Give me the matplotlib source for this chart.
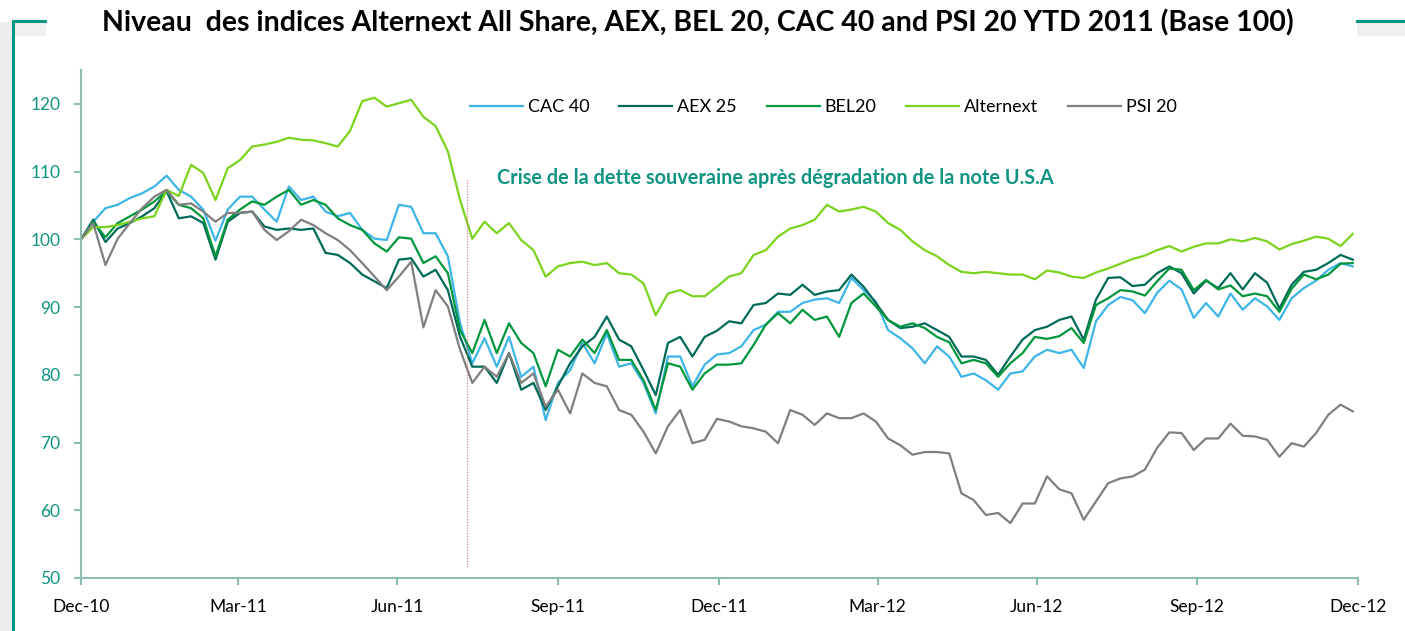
import numpy as np
import pandas as pd
import matplotlib
matplotlib.use("Agg")
import matplotlib.pyplot as plt
from matplotlib.lines import Line2D
from matplotlib.patches import Rectangle

# weekly closes, base 100 on 31 Dec 2010
dates = pd.date_range("2010-12-31", periods=105, freq="7D")

cac40 = [100, 102.6, 104.6, 105.1, 106.1, 106.8, 107.8, 109.4, 107.3, 106.3,
         104.4, 99.8, 104.4, 106.3, 106.3, 104.4, 102.6, 107.8, 105.8, 106.3,
         104.1, 103.4, 103.9, 101.4, 100.1, 99.9, 105.1, 104.8, 100.9, 100.9,
         97.5, 87.6, 81.7, 85.4, 81.2, 85.6, 79.7, 81.2, 73.3, 78.8,
         80.7, 84.7, 81.7, 86.1, 81.2, 81.7, 78.8, 74.3, 82.7, 82.7,
         78.3, 81.5, 83.0, 83.2, 84.2, 86.6, 87.4, 89.3, 89.3, 90.6,
         91.1, 91.3, 90.6, 94.3, 92.5, 90.8, 86.6, 85.4, 83.9, 81.7,
         84.2, 82.7, 79.7, 80.2, 79.2, 77.8, 80.2, 80.5, 82.7, 83.7,
         83.2, 83.7, 81.0, 87.9, 90.3, 91.5, 91.0, 89.1, 92.1, 93.9,
         92.6, 88.4, 90.6, 88.6, 92.0, 89.6, 91.3, 90.1, 88.1, 91.3,
         92.8, 93.9, 95.5, 96.5, 96.0]

aex25 = [100, 102.9, 99.6, 101.6, 102.4, 103.4, 104.6, 107.1, 103.1, 103.4,
         102.4, 97.0, 102.6, 103.9, 104.1, 101.9, 101.4, 101.6, 101.4, 101.6,
         98.0, 97.7, 96.5, 94.8, 93.8, 92.8, 97.0, 97.2, 94.5, 95.5,
         92.5, 85.6, 81.2, 81.2, 78.8, 83.2, 77.8, 78.8, 74.8, 78.3,
         81.7, 84.2, 85.6, 88.6, 85.2, 84.2, 80.7, 77.0, 84.7, 85.6,
         82.7, 85.6, 86.5, 87.9, 87.6, 90.3, 90.6, 92.0, 91.8, 93.3,
         91.8, 92.3, 92.5, 94.8, 93.0, 90.6, 88.1, 86.9, 87.1, 87.6,
         86.6, 85.6, 82.7, 82.7, 82.2, 80.0, 82.7, 85.2, 86.6, 87.1,
         88.1, 88.6, 85.2, 91.1, 94.3, 94.4, 93.1, 93.3, 95.0, 96.0,
         95.0, 92.0, 93.9, 92.8, 95.0, 92.6, 95.0, 93.6, 89.8, 93.3,
         95.2, 95.5, 96.5, 97.7, 97.0]

bel20 = [100, 102.6, 100.3, 102.4, 103.4, 104.4, 105.6, 107.1, 105.1, 104.6,
         103.1, 97.5, 102.9, 104.4, 105.6, 105.1, 106.3, 107.3, 105.1, 105.8,
         105.1, 103.1, 102.1, 101.4, 99.4, 98.2, 100.3, 100.1, 96.5, 97.5,
         95.0, 86.6, 83.2, 88.1, 83.2, 87.6, 84.7, 83.2, 78.3, 83.7,
         82.7, 85.2, 83.2, 86.6, 82.2, 82.2, 79.2, 74.8, 81.7, 81.2,
         77.8, 80.2, 81.5, 81.5, 81.7, 84.4, 87.4, 89.1, 87.6, 89.6,
         88.1, 88.6, 85.6, 90.6, 92.0, 90.1, 88.1, 87.1, 87.6, 86.9,
         85.6, 84.8, 81.7, 82.2, 81.7, 79.7, 81.7, 83.2, 85.6, 85.3,
         85.7, 86.9, 84.7, 90.3, 91.3, 92.5, 92.3, 91.7, 93.8, 95.7,
         95.5, 92.5, 94.0, 92.6, 93.2, 91.6, 92.0, 91.6, 89.3, 92.7,
         94.8, 94.1, 94.8, 96.4, 96.5]

alternext = [100, 101.8, 101.8, 102.1, 102.6, 103.1, 103.4, 107.3, 106.4, 111.0,
             109.8, 105.8, 110.5, 111.7, 113.7, 114.0, 114.4, 115.0, 114.7, 114.6,
             114.2, 113.7, 116.0, 120.4, 120.9, 119.6, 120.1, 120.6, 118.1, 116.7,
             113.0, 105.8, 100.1, 102.6, 100.9, 102.4, 99.9, 98.4, 94.5, 96.0,
             96.5, 96.7, 96.2, 96.5, 95.0, 94.8, 93.5, 88.8, 92.0, 92.5,
             91.6, 91.6, 93.0, 94.5, 95.0, 97.7, 98.4, 100.4, 101.6, 102.1,
             102.9, 105.1, 104.1, 104.4, 104.8, 104.1, 102.4, 101.4, 99.7, 98.4,
             97.5, 96.2, 95.2, 95.0, 95.2, 95.0, 94.8, 94.8, 94.1, 95.4,
             95.1, 94.5, 94.3, 95.1, 95.7, 96.4, 97.1, 97.6, 98.4, 99.0,
             98.2, 98.9, 99.4, 99.4, 100.0, 99.7, 100.2, 99.7, 98.5, 99.3,
             99.8, 100.4, 100.1, 99.0, 100.8]

psi20 = [100, 102.4, 96.2, 100.1, 102.4, 104.6, 106.3, 107.3, 105.1, 105.3,
         104.1, 102.6, 103.9, 103.9, 104.1, 101.4, 99.9, 101.2, 102.9, 102.1,
         100.9, 99.9, 98.4, 96.5, 94.5, 92.5, 94.5, 96.7, 87.0, 92.5,
         90.1, 83.7, 78.8, 81.2, 79.7, 83.2, 78.8, 80.2, 75.3, 77.8,
         74.3, 80.2, 78.8, 78.3, 74.8, 74.1, 71.6, 68.4, 72.4, 74.8,
         69.9, 70.4, 73.5, 73.1, 72.4, 72.1, 71.6, 69.9, 74.8, 74.1,
         72.6, 74.3, 73.6, 73.6, 74.3, 73.1, 70.6, 69.6, 68.2, 68.6,
         68.6, 68.4, 62.5, 61.5, 59.3, 59.6, 58.1, 61.0, 61.0, 65.0,
         63.1, 62.5, 58.6, 61.3, 64.0, 64.7, 65.0, 66.0, 69.2, 71.5,
         71.4, 68.9, 70.6, 70.6, 72.8, 71.0, 70.9, 70.4, 67.9, 69.9,
         69.4, 71.4, 74.1, 75.6, 74.6]

series = [("CAC 40", cac40, "#3db5e6"),
          ("AEX 25", aex25, "#006a58"),
          ("BEL20", bel20, "#00963c"),
          ("Alternext", alternext, "#7ad31c"),
          ("PSI 20", psi20, "#7f7f7f")]

tick_dates = pd.to_datetime(["2010-12-31", "2011-03-31", "2011-06-30", "2011-09-30",
                             "2011-12-31", "2012-03-31", "2012-06-30", "2012-09-30",
                             "2012-12-31"])
tick_labels = ["Dec-10", "Mar-11", "Jun-11", "Sep-11", "Dec-11",
               "Mar-12", "Jun-12", "Sep-12", "Dec-12"]

downgrade_date = pd.Timestamp("2011-08-09")
note_date = pd.Timestamp("2011-08-26")
note_text = "Crise de la dette souveraine après dégradation de la note U.S.A"
title = "Niveau  des indices Alternext All Share, AEX, BEL 20, CAC 40 and PSI 20 YTD 2011 (Base 100)"

TEAL = "#129482"
AXIS = "#8dbdb3"

plt.rcParams.update({
    "font.family": ["Lato", "DejaVu Sans"],
    "font.size": 12,
})

fig = plt.figure(figsize=(14.05, 6.31), dpi=100)
ax = fig.add_axes([81 / 1405, 1 - 578 / 631, 1277 / 1405, 508 / 631])

for name, vals, col in series:
    ax.plot(dates, vals, color=col, lw=1.6, label=name)

ax.plot([downgrade_date, downgrade_date], [51.6, 108.8], color="#e06a6a",
        lw=0.8, ls=(0, (1, 1.5)))
ax.text(note_date, 109.1, note_text, color=TEAL, fontsize=14.3,
        fontweight="bold", va="center", ha="left")

ax.set_xlim(tick_dates[0], tick_dates[-1])
ax.set_ylim(50, 125)
ax.set_yticks(np.arange(50, 121, 10))
ax.set_xticks(tick_dates)
ax.set_xticklabels(tick_labels)

for s in ["top", "right"]:
    ax.spines[s].set_visible(False)
for s in ["left", "bottom"]:
    ax.spines[s].set_color(AXIS)
    ax.spines[s].set_linewidth(1.5)
ax.tick_params(axis="y", colors=AXIS, labelcolor=TEAL, length=5, width=1.5,
               pad=10, labelsize=12.5)
ax.tick_params(axis="x", colors=AXIS, labelcolor="black", length=5, width=1.5,
               pad=10, labelsize=12.5)

leg = ax.legend(loc="center left", bbox_to_anchor=(0.3046, 0.927), ncol=5,
                frameon=False, borderpad=0, borderaxespad=0, handlelength=2.93,
                handletextpad=0.28, columnspacing=1.65, fontsize=13)

fig.text(0.497, 0.963, title, ha="center", va="center", fontsize=20.5,
         fontweight="bold", color="black")

# slide frame decoration
fig.add_artist(Rectangle((0, 0), 12 / 1405, 1 - 22 / 631, transform=fig.transFigure,
                         color="#eeeeee", lw=0))
fig.add_artist(Rectangle((14 / 1405, 1 - 36 / 631), 32 / 1405, 14 / 631,
                         transform=fig.transFigure, color="#efefef", lw=0))
fig.add_artist(Rectangle((1357 / 1405, 1 - 36 / 631), 48 / 1405, 14 / 631,
                         transform=fig.transFigure, color="#efefef", lw=0))
fig.add_artist(Line2D([13 / 1405, 13 / 1405], [0, 1 - 21 / 631],
                      transform=fig.transFigure, color="#0f9682", lw=2.2))
fig.add_artist(Line2D([13 / 1405, 45 / 1405], [1 - 21 / 631, 1 - 21 / 631],
                      transform=fig.transFigure, color="#0f9682", lw=2.2))
fig.add_artist(Line2D([1357 / 1405, 1], [1 - 21 / 631, 1 - 21 / 631],
                      transform=fig.transFigure, color="#0f9682", lw=2.2))

fig.savefig("out.png", dpi=100, facecolor="white")
